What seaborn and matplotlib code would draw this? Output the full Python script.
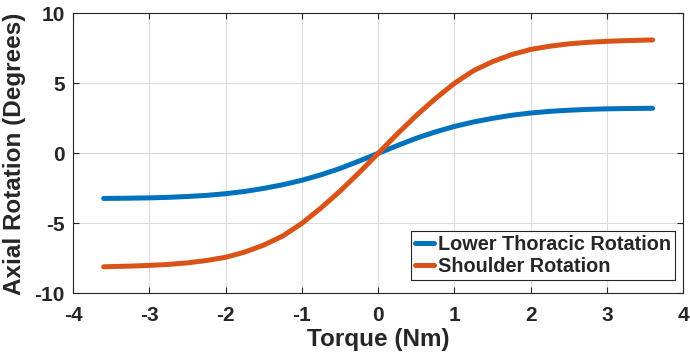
import matplotlib
matplotlib.use("Agg")
import matplotlib.pyplot as plt
import seaborn as sns
import pandas as pd

torque = [-3.6, -3.25, -3.0, -2.75, -2.5, -2.25, -2.0, -1.75, -1.5, -1.25, -1.0, -0.75, -0.5, -0.25,
          0.0, 0.25, 0.5, 0.75, 1.0, 1.25, 1.5, 1.75, 2.0, 2.25, 2.5, 2.75, 3.0, 3.25, 3.6]
thoracic = [-3.22, -3.2, -3.18, -3.14, -3.08, -3.0, -2.88, -2.72, -2.5, -2.24, -1.92, -1.53, -1.08, -0.55,
            0.0, 0.55, 1.08, 1.53, 1.92, 2.24, 2.5, 2.72, 2.88, 3.0, 3.08, 3.14, 3.18, 3.2, 3.22]
shoulder = [-8.1, -8.05, -8.0, -7.93, -7.82, -7.65, -7.42, -7.05, -6.55, -5.9, -5.0, -3.9, -2.7, -1.38,
            0.0, 1.38, 2.7, 3.9, 5.0, 5.9, 6.55, 7.05, 7.42, 7.65, 7.82, 7.93, 8.0, 8.05, 8.1]
series_names = ["Lower Thoracic Rotation", "Shoulder Rotation"]
xticks = [-4, -3, -2, -1, 0, 1, 2, 3, 4]
yticks = [-10, -5, 0, 5, 10]

df = pd.concat([
    pd.DataFrame({"Torque": torque, "Rotation": thoracic, "Series": series_names[0]}),
    pd.DataFrame({"Torque": torque, "Rotation": shoulder, "Series": series_names[1]}),
])

sns.set_style("ticks")
plt.rcParams["font.family"] = ["Liberation Sans", "DejaVu Sans"]

fig = plt.figure(figsize=(6.9, 3.6), dpi=100)
ax = fig.add_axes([0.106, 0.185, 0.884, 0.778])

sns.lineplot(data=df, x="Torque", y="Rotation", hue="Series",
             palette=["#0072BD", "#D95319"], linewidth=3.6, ax=ax, sort=True,
             estimator=None)

ax.set_xlim(-4, 4)
ax.set_ylim(-10, 10)
ax.set_xticks(xticks)
ax.set_yticks(yticks)
ax.set_xticklabels([str(t) for t in xticks], fontsize=15, fontweight="bold", color="#262626")
ax.set_yticklabels([str(t) for t in yticks], fontsize=15, fontweight="bold", color="#262626")
ax.grid(True, color="#dcdcdc", linewidth=0.8)
ax.tick_params(direction="in", top=True, right=True, length=4, width=0.8, color="#262626")
ax.tick_params(axis="x", pad=9)
ax.tick_params(axis="y", pad=6)
for s in ax.spines.values():
    s.set_visible(True)
    s.set_color("#262626")
    s.set_linewidth(0.8)

ax.set_xlabel("Torque (Nm)", fontsize=17.5, fontweight="bold", color="#262626", labelpad=2)
ax.set_ylabel("Axial Rotation (Degrees)", fontsize=17.5, fontweight="bold", color="#262626", labelpad=6)

leg = ax.legend(loc="lower right", bbox_to_anchor=(0.987, 0.048), frameon=True, fancybox=False,
                handlelength=0.95, handletextpad=0.2, borderpad=0.2, labelspacing=0.15,
                borderaxespad=0.0, prop={"weight": "bold", "size": 14.3})
leg.get_frame().set_edgecolor("#262626")
leg.get_frame().set_linewidth(0.8)
leg.get_frame().set_alpha(1)
for line in leg.get_lines():
    line.set_linewidth(3.6)

fig.savefig("out.png", dpi=100)
